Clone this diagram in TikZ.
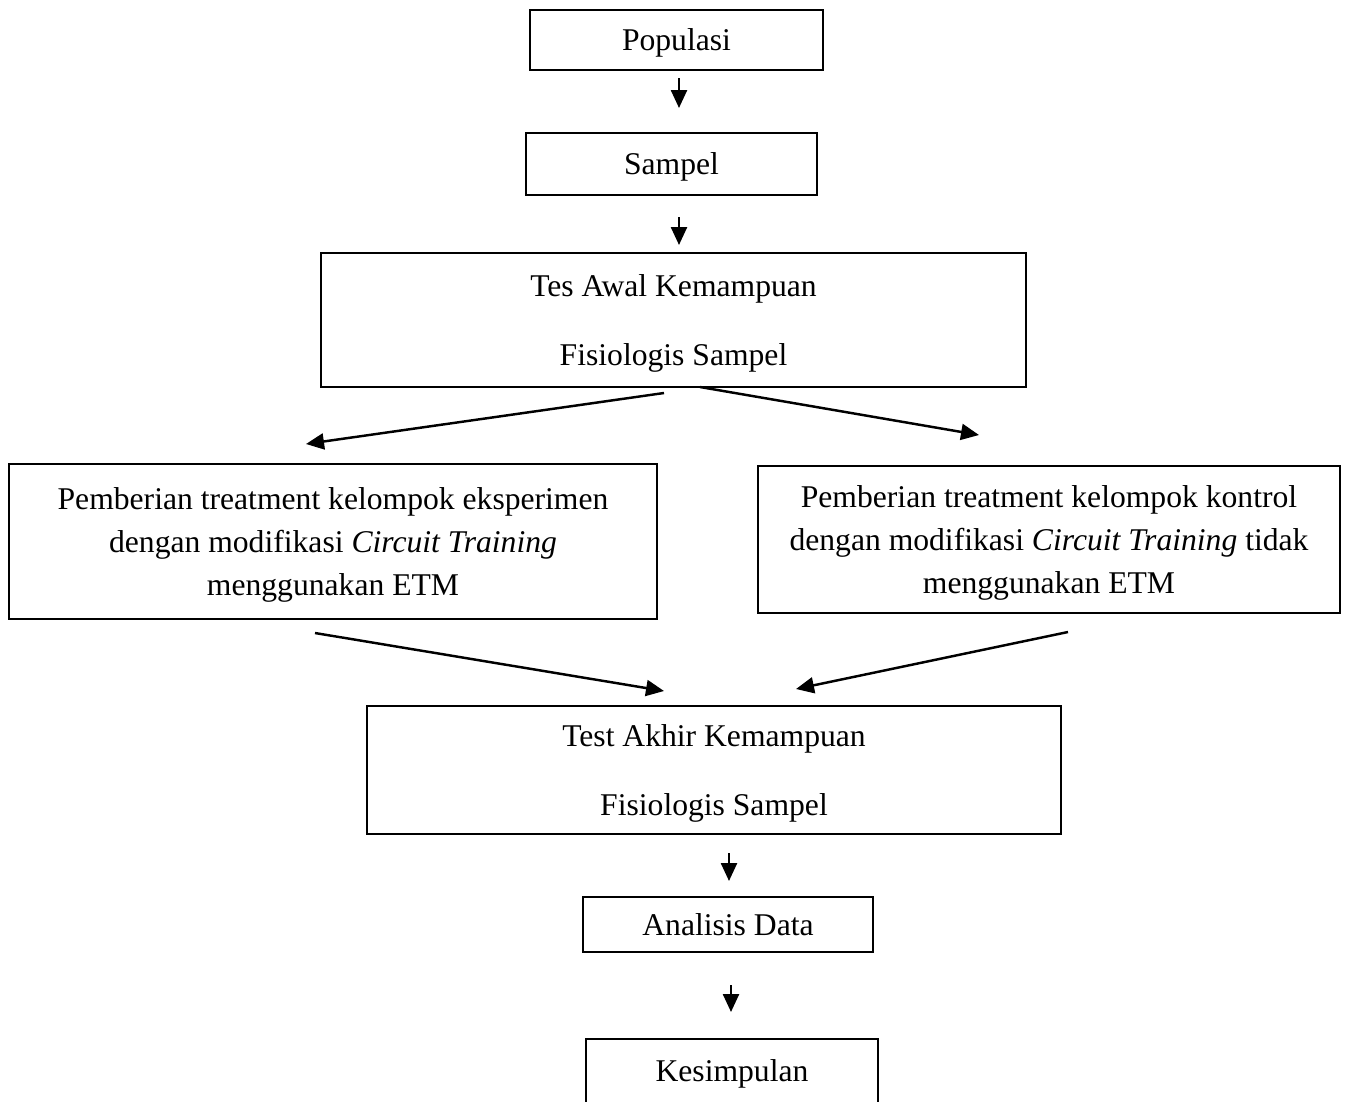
\documentclass[tikz,border=0pt]{standalone}
\usepackage{fontspec}
\setmainfont{Liberation Serif}
\usetikzlibrary{arrows.meta}
\tikzset{
  every picture/.style={line width=0.85pt},
  box/.style={draw, rectangle, align=center, inner sep=0pt, text depth=0pt, font=\fontsize{18}{24.4}\selectfont},
  arrow/.style={-{Triangle[length=3.6mm, width=3.2mm]}, line width=1.4pt},
}

\begin{document}
\begin{tikzpicture}[x=0.2mm, y=-0.2mm]
  \useasboundingbox (0,0) rectangle (1347,1101);
  \node[box, minimum width=58.6mm, minimum height=12mm] (pop) at (676.5,40) {Populasi};
  \node[box, minimum width=58.2mm, minimum height=12.4mm] (sampel) at (671.5,164) {Sampel};
  \node[box, minimum width=141mm, minimum height=26.8mm] (awal) at (673.5,320) {Tes Awal Kemampuan\\[15.3pt]Fisiologis Sampel};
  \node[box, minimum width=129.6mm, minimum height=31mm] (eksp) at (333,541.5) {Pemberian treatment kelompok eksperimen\\dengan modifikasi \textit{Circuit Training}\\menggunakan ETM};
  \node[box, minimum width=116.4mm, minimum height=29.4mm] (kontrol) at (1049,539.5) {Pemberian treatment kelompok kontrol\\dengan modifikasi \textit{Circuit Training} tidak\\menggunakan ETM};
  \node[box, minimum width=138.8mm, minimum height=25.6mm] (akhir) at (714,770) {Test Akhir Kemampuan\\[15.3pt]Fisiologis Sampel};
  \node[box, minimum width=58mm, minimum height=11mm] (analisis) at (728,924.5) {Analisis Data};
  \node[box, minimum width=58.4mm, minimum height=12.8mm] (simpul) at (732,1071) {Kesimpulan};
  % arrow ends (the arrows stop short of the boxes)
  \coordinate (a1) at (679,78);   \coordinate (b1) at (679,108);
  \coordinate (a2) at (679,217);  \coordinate (b2) at (679,245);
  \coordinate (a3) at (664,393);  \coordinate (b3) at (306,444);
  \coordinate (a4) at (700,387);  \coordinate (b4) at (979,435);
  \coordinate (a5) at (315,633);  \coordinate (b5) at (664,691);
  \coordinate (a6) at (1068,632); \coordinate (b6) at (796,689);
  \coordinate (a7) at (729,853);  \coordinate (b7) at (729,881);
  \coordinate (a8) at (731,985);  \coordinate (b8) at (731,1012);
  \foreach \i in {1,...,8} \draw[arrow] (a\i) -- (b\i);
\end{tikzpicture}
\end{document}
